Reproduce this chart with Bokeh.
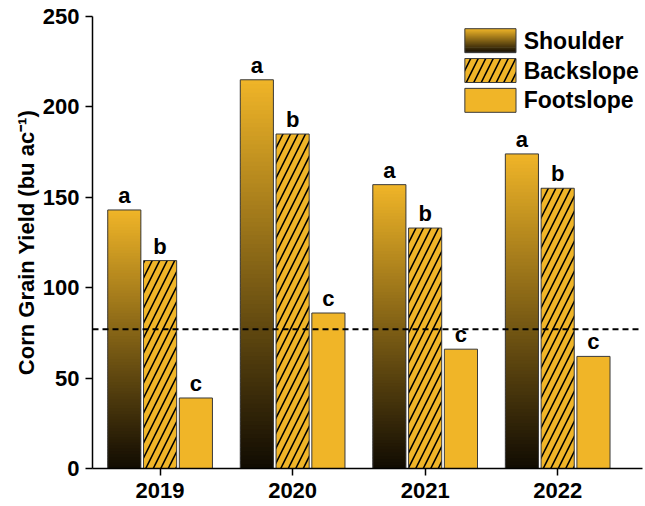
import numpy as np
from bokeh.plotting import figure
from bokeh.models import Range1d, FixedTicker, Span
from bokeh.core.properties import value
from bokeh.embed import file_html
from bokeh.resources import INLINE

# ---------------- data ----------------
years = ["2019", "2020", "2021", "2022"]
shoulder = [143, 215, 157, 174]
backslope = [115, 185, 133, 155]
footslope = [39, 86, 66, 62]
shoulder_letters = ["a", "a", "a", "a"]
backslope_letters = ["b", "b", "b", "b"]
footslope_letters = ["c", "c", "c", "c"]
reference_yield = 77
series_names = ["Shoulder", "Backslope", "Footslope"]
y_ticks = [0, 50, 100, 150, 200, 250]

# ---------------- style ----------------
GOLD = (240, 181, 40)
DARK = (16, 11, 2)
OUTLINE = "#3a3a3a"
FONT = "Liberation Sans"
offsets = [-0.27, 0.0, 0.27]
bw = 0.25
N = 90
HATCH_SCALE = 15
HATCH_W = 1.6


def mix(t):
    r = [int(round(DARK[i] + (GOLD[i] - DARK[i]) * t)) for i in range(3)]
    return "#%02x%02x%02x" % tuple(r)


gold_hex = mix(1.0)

p = figure(width=645, height=506, output_backend="svg", toolbar_location=None,
           x_range=Range1d(0.49, 4.64), y_range=Range1d(0, 250),
           min_border_left=92, min_border_right=3, min_border_top=16,
           min_border_bottom=38)
p.extra_x_ranges = {"lx": Range1d(0, 1)}
p.extra_y_ranges = {"ly": Range1d(0, 1)}

xpos = np.arange(1, len(years) + 1)

# Shoulder: gradient bars (dark bottom -> gold top), slices overlap to hide seams
gl, gr, gb, gt, gc = [], [], [], [], []
for i, v in enumerate(shoulder):
    xc = xpos[i] + offsets[0]
    for k in range(N):
        gl.append(xc - bw / 2)
        gr.append(xc + bw / 2)
        gb.append(v * k / N)
        gt.append(min(v, v * (k + 1.8) / N))
        gc.append(mix((k + 0.5) / N))
p.quad(left=gl, right=gr, bottom=gb, top=gt, fill_color=gc, line_color=None)
p.vbar(x=xpos + offsets[0], top=shoulder, width=bw, fill_color=None,
       line_color=OUTLINE, line_width=1)

# Backslope: hatched
p.vbar(x=xpos + offsets[1], top=backslope, width=bw, fill_color=gold_hex,
       line_color=OUTLINE, line_width=1, hatch_pattern="/", hatch_color="black",
       hatch_weight=HATCH_W, hatch_scale=HATCH_SCALE)

# Footslope: solid
p.vbar(x=xpos + offsets[2], top=footslope, width=bw, fill_color=gold_hex,
       line_color=OUTLINE, line_width=1)

# Letters
for vals, labs, off in [(shoulder, shoulder_letters, offsets[0]),
                        (backslope, backslope_letters, offsets[1]),
                        (footslope, footslope_letters, offsets[2])]:
    p.text(x=xpos + off, y=vals, text=labs, text_align="center",
           text_baseline="bottom", y_offset=-2, text_font=value(FONT),
           text_font_style="bold", text_font_size="22px", text_color="black")

# Dashed reference line
p.add_layout(Span(location=reference_yield, dimension="width", line_color="black",
                  line_dash="6 4", line_width=2))

# ---------------- manual legend (frame-relative coords) ----------------
sw_l, sw_r = 0.677, 0.770
row_top = [0.973, 0.907, 0.841]
sw_h = 0.053
txt_x = 0.784
M = 30
ll, lr, lb, lt, lc = [], [], [], [], []
for k in range(M):
    ll.append(sw_l)
    lr.append(sw_r)
    lb.append(row_top[0] - sw_h + sw_h * k / M)
    lt.append(min(row_top[0], row_top[0] - sw_h + sw_h * (k + 1.8) / M))
    lc.append(mix((k + 0.5) / M))
p.quad(left=ll, right=lr, bottom=lb, top=lt, fill_color=lc, line_color=None,
       x_range_name="lx", y_range_name="ly")
p.quad(left=[sw_l], right=[sw_r], bottom=[row_top[0] - sw_h], top=[row_top[0]],
       fill_color=None, line_color=OUTLINE, line_width=1,
       x_range_name="lx", y_range_name="ly")
p.quad(left=[sw_l], right=[sw_r], bottom=[row_top[1] - sw_h], top=[row_top[1]],
       fill_color=gold_hex, line_color=OUTLINE, line_width=1, hatch_pattern="/",
       hatch_color="black", hatch_weight=HATCH_W, hatch_scale=HATCH_SCALE,
       x_range_name="lx", y_range_name="ly")
p.quad(left=[sw_l], right=[sw_r], bottom=[row_top[2] - sw_h], top=[row_top[2]],
       fill_color=gold_hex, line_color=OUTLINE, line_width=1,
       x_range_name="lx", y_range_name="ly")
p.text(x=[txt_x] * 3, y=[t - sw_h / 2 for t in row_top], text=series_names,
       text_align="left", text_baseline="middle", text_font=value(FONT),
       text_font_style="bold", text_font_size="23px", text_color="black",
       x_range_name="lx", y_range_name="ly")

# ---------------- axes ----------------
p.yaxis.ticker = FixedTicker(ticks=y_ticks)
p.xaxis.ticker = FixedTicker(ticks=list(xpos))
p.xaxis.major_label_overrides = {int(x): y for x, y in zip(xpos, years)}
p.yaxis.axis_label = "Corn Grain Yield (bu ac\u207b\u00b9)"
for ax in p.axis:
    ax.axis_line_color = "black"
    ax.axis_line_width = 1.5
    ax.major_tick_line_color = "black"
    ax.major_tick_line_width = 1.5
    ax.major_tick_in = 0
    ax.major_tick_out = 7
    ax.minor_tick_line_color = None
    ax.major_label_text_font = FONT
    ax.major_label_text_font_style = "bold"
    ax.major_label_text_font_size = "22px"
    ax.major_label_text_color = "black"
    ax.axis_label_text_font = FONT
    ax.axis_label_text_font_style = "bold"
    ax.axis_label_text_font_size = "22px"
    ax.axis_label_text_color = "black"
p.yaxis.major_label_standoff = 6
p.xaxis.major_label_standoff = 7
p.yaxis.axis_label_standoff = 1
p.grid.grid_line_color = None
p.outline_line_color = None
p.background_fill_color = "white"
p.border_fill_color = "white"

open("out.html", "w").write(file_html(p, INLINE))
